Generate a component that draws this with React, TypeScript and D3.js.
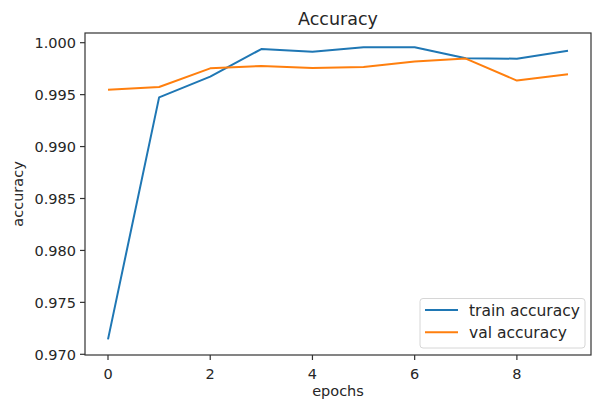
import React from "react";
import { scaleLinear, line } from "d3";

const epochs = [0, 1, 2, 3, 4, 5, 6, 7, 8, 9];
const trainAcc = [0.97144, 0.99474, 0.99673, 0.99939, 0.99913, 0.99956, 0.99956, 0.9985, 0.99846, 0.99923];
const valAcc = [0.99548, 0.99574, 0.99753, 0.99776, 0.99757, 0.99767, 0.99818, 0.99847, 0.99635, 0.99696];
const xTicks = [0, 2, 4, 6, 8];
const yTicks = [0.97, 0.975, 0.98, 0.985, 0.99, 0.995, 1.0];
const seriesNames = ["train accuracy", "val accuracy"];
const seriesColors = ["#1f77b4", "#ff7f0e"];

const W = 593;
const H = 403;
const left = 85;
const right = 591;
const top = 33;
const bottom = 355;
const font = "DejaVu Sans, sans-serif";

export default function App() {
  // scales
  const x = scaleLinear().domain([-0.45, 9.45]).range([left, right]);
  const y = scaleLinear().domain([0.97, 1.0]).range([354.3, 42.7]);

  const lineGen = line<number>()
    .x((_, i) => x(epochs[i]))
    .y((d) => y(d));

  const series = [trainAcc, valAcc];

  return (
    <svg
      width={W}
      height={H}
      style={{ position: "absolute", left: 0, top: 0, background: "#fff" }}
      fontFamily={font}
    >
      <rect width={W} height={H} fill="#fff" />
      {/* lines */}
      {series.map((s, i) => (
        <path
          key={i}
          d={lineGen(s) || ""}
          fill="none"
          stroke={seriesColors[i]}
          strokeWidth={2}
          strokeLinejoin="round"
        />
      ))}
      {/* spines */}
      <rect
        x={left}
        y={top}
        width={right - left}
        height={bottom - top}
        fill="none"
        stroke="#333"
        strokeWidth={1.2}
      />
      {/* x axis */}
      {xTicks.map((t) => (
        <g key={t} transform={`translate(${x(t)},${bottom})`}>
          <line y2={5} stroke="#333" strokeWidth={1.2} />
          <text y={23.5} textAnchor="middle" fontSize={14.5} fill="#262626">
            {t}
          </text>
        </g>
      ))}
      {/* y axis */}
      {yTicks.map((t) => (
        <g key={t} transform={`translate(${left},${y(t)})`}>
          <line x2={-5} stroke="#333" strokeWidth={1.2} />
          <text x={-9} dy="0.36em" textAnchor="end" fontSize={14.5} fill="#262626">
            {t.toFixed(3)}
          </text>
        </g>
      ))}
      <text x={(left + right) / 2} y={25} textAnchor="middle" fontSize={17.5} fill="#262626">
        Accuracy
      </text>
      <text x={(left + right) / 2} y={396} textAnchor="middle" fontSize={14.5} fill="#262626">
        epochs
      </text>
      <text
        transform={`translate(23,${(top + bottom) / 2}) rotate(-90)`}
        textAnchor="middle"
        fontSize={14.5}
        fill="#262626"
      >
        accuracy
      </text>
      {/* legend */}
      <rect x={420} y={298.5} width={165} height={49.5} rx={3} fill="#fff" fillOpacity={0.8} stroke="#d6d6d6" />
      {seriesNames.map((name, i) => (
        <g key={name} transform={`translate(425,${310 + i * 22.3})`}>
          <line x2={33} stroke={seriesColors[i]} strokeWidth={2} />
          <text x={44} dy="0.36em" fontSize={15.5} fill="#262626">
            {name}
          </text>
        </g>
      ))}
    </svg>
  );
}
